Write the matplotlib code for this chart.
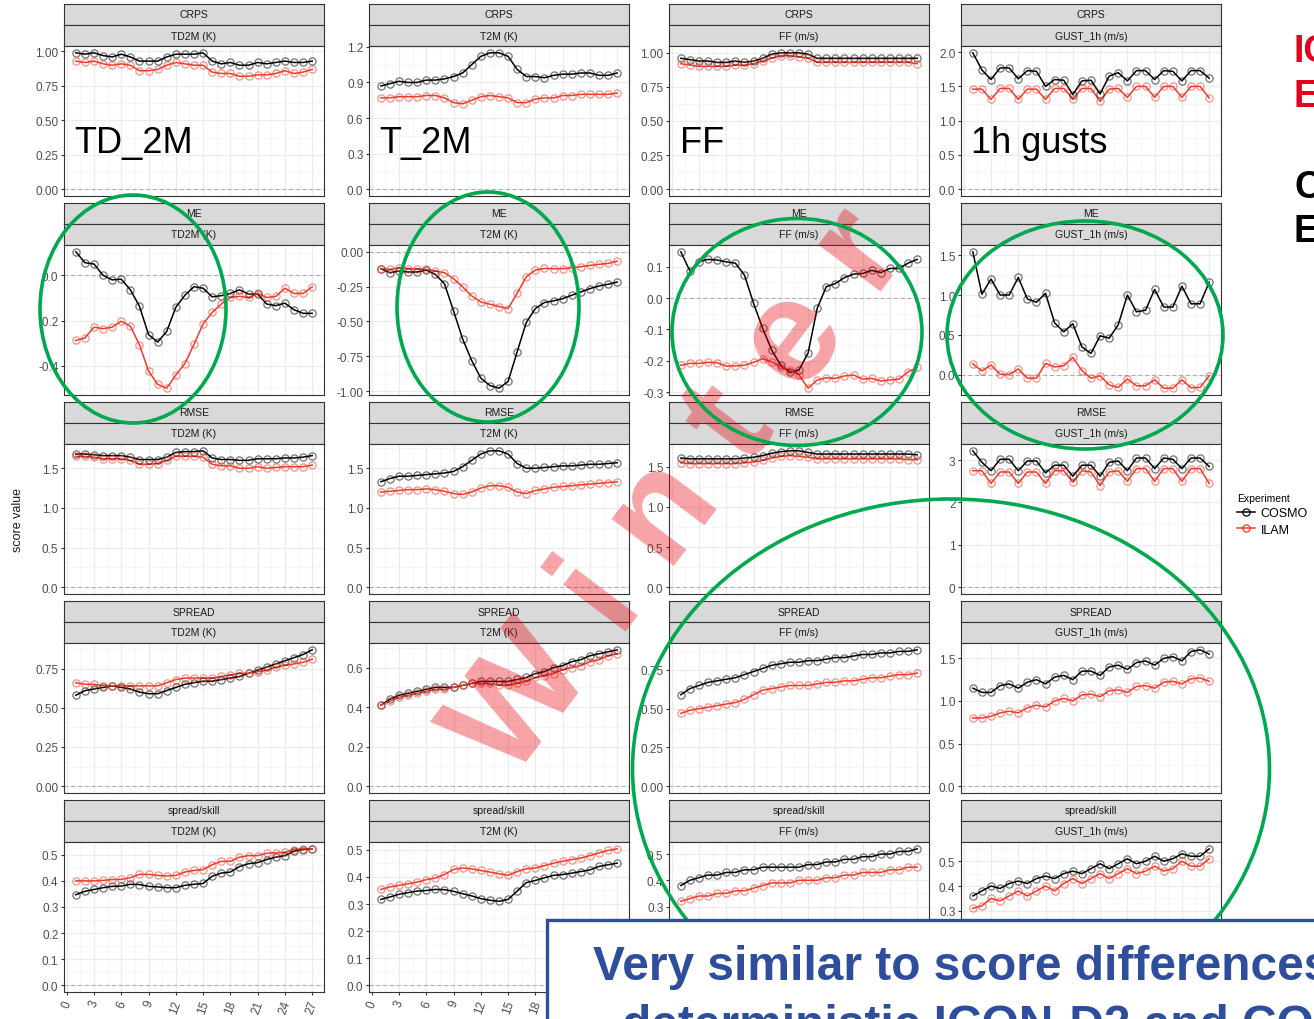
import matplotlib
matplotlib.use("Agg")
import matplotlib.pyplot as plt
from matplotlib.patches import Ellipse, Rectangle
from matplotlib.lines import Line2D
from matplotlib import font_manager
import numpy as np

plt.rcParams['font.family'] = ['Liberation Sans', 'DejaVu Sans']

lead = list(range(1, 28))
scores = ["CRPS", "ME", "RMSE", "SPREAD", "spread/skill"]
variables = ["TD2M (K)", "T2M (K)", "FF (m/s)", "GUST_1h (m/s)"]
experiments = ["COSMO", "ILAM"]

# CRPS
crps_td2m_cosmo = [0.99, 0.98, 0.99, 0.97, 0.96, 0.98, 0.96, 0.93, 0.93, 0.93, 0.96, 0.98, 0.98, 0.98, 0.99,
                   0.93, 0.91, 0.92, 0.90, 0.90, 0.92, 0.91, 0.92, 0.93, 0.92, 0.92, 0.93]
crps_td2m_ilam = [0.93, 0.92, 0.93, 0.91, 0.90, 0.91, 0.90, 0.86, 0.86, 0.87, 0.90, 0.92, 0.91, 0.90, 0.90,
                  0.85, 0.84, 0.84, 0.82, 0.82, 0.83, 0.83, 0.84, 0.86, 0.84, 0.85, 0.87]
crps_t2m_cosmo = [0.87, 0.89, 0.91, 0.90, 0.90, 0.92, 0.92, 0.93, 0.95, 0.98, 1.05, 1.12, 1.15, 1.15, 1.12,
                  1.01, 0.95, 0.95, 0.94, 0.96, 0.97, 0.97, 0.98, 0.98, 0.96, 0.96, 0.98]
crps_t2m_ilam = [0.77, 0.77, 0.78, 0.78, 0.78, 0.79, 0.79, 0.77, 0.73, 0.72, 0.75, 0.78, 0.79, 0.78, 0.77,
                 0.73, 0.73, 0.76, 0.77, 0.77, 0.79, 0.79, 0.80, 0.80, 0.80, 0.80, 0.81]
crps_ff_cosmo = [0.96, 0.95, 0.94, 0.94, 0.93, 0.93, 0.94, 0.93, 0.94, 0.96, 0.99, 1.00, 1.00, 1.00, 0.99,
                 0.96, 0.96, 0.96, 0.96, 0.96, 0.96, 0.96, 0.96, 0.96, 0.96, 0.96, 0.96]
crps_ff_ilam = [0.92, 0.91, 0.90, 0.90, 0.90, 0.90, 0.91, 0.91, 0.92, 0.94, 0.96, 0.98, 0.98, 0.97, 0.96,
                0.93, 0.93, 0.93, 0.93, 0.93, 0.93, 0.93, 0.93, 0.93, 0.93, 0.93, 0.92]
crps_gust_cosmo = [1.99, 1.74, 1.60, 1.77, 1.77, 1.61, 1.73, 1.72, 1.50, 1.60, 1.59, 1.38, 1.58, 1.59, 1.39,
                   1.65, 1.70, 1.58, 1.73, 1.73, 1.60, 1.73, 1.72, 1.58, 1.73, 1.73, 1.62]
crps_gust_ilam = [1.46, 1.46, 1.31, 1.47, 1.47, 1.31, 1.46, 1.46, 1.31, 1.47, 1.47, 1.32, 1.47, 1.47, 1.28,
                  1.46, 1.47, 1.34, 1.50, 1.50, 1.34, 1.50, 1.50, 1.34, 1.50, 1.50, 1.33]

# ME
me_td2m_cosmo = [0.104, 0.056, 0.050, 0.0, -0.020, -0.017, -0.064, -0.137, -0.262, -0.295, -0.248, -0.141,
                 -0.088, -0.050, -0.057, -0.095, -0.090, -0.080, -0.064, -0.083, -0.083, -0.127, -0.134,
                 -0.123, -0.152, -0.168, -0.168]
me_td2m_ilam = [-0.288, -0.277, -0.229, -0.236, -0.229, -0.203, -0.225, -0.307, -0.423, -0.482, -0.499, -0.441,
                -0.390, -0.305, -0.215, -0.164, -0.127, -0.098, -0.093, -0.098, -0.079, -0.098, -0.093,
                -0.057, -0.080, -0.080, -0.051]
me_t2m_cosmo = [-0.121, -0.150, -0.138, -0.145, -0.145, -0.131, -0.162, -0.229, -0.424, -0.626, -0.781, -0.907,
                -0.960, -0.979, -0.931, -0.717, -0.507, -0.407, -0.364, -0.352, -0.336, -0.312, -0.288,
                -0.264, -0.245, -0.233, -0.217]
me_t2m_ilam = [-0.121, -0.126, -0.114, -0.121, -0.121, -0.126, -0.138, -0.150, -0.193, -0.252, -0.317, -0.360,
               -0.376, -0.393, -0.407, -0.298, -0.179, -0.131, -0.119, -0.121, -0.121, -0.114, -0.107,
               -0.098, -0.090, -0.083, -0.067]
me_ff_cosmo = [0.147, 0.086, 0.116, 0.123, 0.121, 0.115, 0.111, 0.073, -0.017, -0.096, -0.166, -0.214, -0.237,
               -0.229, -0.175, -0.033, 0.036, 0.046, 0.065, 0.076, 0.078, 0.088, 0.081, 0.094, 0.094, 0.111, 0.123]
me_ff_ilam = [-0.214, -0.208, -0.208, -0.205, -0.206, -0.217, -0.216, -0.214, -0.205, -0.193, -0.203, -0.219,
              -0.229, -0.245, -0.287, -0.261, -0.254, -0.256, -0.248, -0.245, -0.258, -0.256, -0.264,
              -0.261, -0.258, -0.235, -0.221]
me_gust_cosmo = [1.54, 1.01, 1.20, 1.00, 1.00, 1.22, 0.95, 0.91, 1.02, 0.65, 0.54, 0.64, 0.35, 0.27, 0.49,
                 0.46, 0.63, 1.00, 0.79, 0.81, 1.07, 0.85, 0.85, 1.11, 0.89, 0.89, 1.16]
me_gust_ilam = [0.14, 0.05, 0.125, 0.01, 0.005, 0.075, -0.04, -0.04, 0.145, 0.10, 0.115, 0.22, 0.055, -0.04,
                -0.01, -0.125, -0.155, -0.05, -0.135, -0.135, -0.06, -0.165, -0.165, -0.06, -0.16, -0.155, -0.01]

# RMSE
rmse_td2m_cosmo = [1.68, 1.68, 1.67, 1.66, 1.66, 1.66, 1.64, 1.61, 1.61, 1.61, 1.64, 1.70, 1.71, 1.71, 1.72,
                   1.63, 1.61, 1.61, 1.60, 1.60, 1.62, 1.62, 1.62, 1.63, 1.63, 1.64, 1.66]
rmse_td2m_ilam = [1.65, 1.65, 1.64, 1.62, 1.62, 1.62, 1.60, 1.55, 1.55, 1.56, 1.60, 1.65, 1.65, 1.65, 1.64,
                  1.55, 1.53, 1.53, 1.50, 1.50, 1.52, 1.50, 1.51, 1.52, 1.52, 1.52, 1.54]
rmse_t2m_cosmo = [1.33, 1.37, 1.40, 1.40, 1.41, 1.42, 1.43, 1.44, 1.46, 1.52, 1.60, 1.68, 1.72, 1.72, 1.68,
                  1.56, 1.50, 1.50, 1.51, 1.52, 1.53, 1.53, 1.54, 1.55, 1.55, 1.56, 1.57]
rmse_t2m_ilam = [1.20, 1.21, 1.22, 1.23, 1.23, 1.24, 1.23, 1.21, 1.18, 1.17, 1.20, 1.25, 1.28, 1.28, 1.26,
                 1.20, 1.18, 1.22, 1.24, 1.26, 1.27, 1.28, 1.29, 1.30, 1.31, 1.32, 1.33]
rmse_ff_cosmo = [1.61, 1.60, 1.60, 1.60, 1.60, 1.60, 1.60, 1.61, 1.62, 1.64, 1.67, 1.69, 1.70, 1.70, 1.68,
                 1.66, 1.66, 1.66, 1.66, 1.66, 1.66, 1.66, 1.66, 1.66, 1.66, 1.66, 1.65]
rmse_ff_ilam = [1.55, 1.54, 1.54, 1.54, 1.54, 1.54, 1.54, 1.55, 1.56, 1.58, 1.61, 1.63, 1.64, 1.63, 1.62,
                1.60, 1.60, 1.60, 1.60, 1.60, 1.60, 1.60, 1.60, 1.60, 1.60, 1.59, 1.59]
rmse_gust_cosmo = [3.22, 2.95, 2.75, 3.02, 3.02, 2.75, 2.98, 2.98, 2.70, 2.88, 2.88, 2.62, 2.88, 2.88, 2.62,
                   2.95, 2.98, 2.75, 3.05, 3.05, 2.80, 3.05, 3.02, 2.80, 3.05, 3.05, 2.85]
rmse_gust_ilam = [2.75, 2.75, 2.45, 2.72, 2.72, 2.45, 2.72, 2.72, 2.45, 2.75, 2.75, 2.48, 2.75, 2.72, 2.40,
                  2.72, 2.75, 2.50, 2.80, 2.80, 2.50, 2.80, 2.80, 2.50, 2.80, 2.80, 2.45]

# SPREAD
spread_td2m_cosmo = [0.58, 0.61, 0.62, 0.63, 0.64, 0.63, 0.62, 0.60, 0.59, 0.59, 0.61, 0.63, 0.65, 0.66, 0.67,
                     0.67, 0.68, 0.69, 0.70, 0.72, 0.74, 0.76, 0.78, 0.80, 0.82, 0.84, 0.87]
spread_td2m_ilam = [0.66, 0.65, 0.65, 0.64, 0.64, 0.64, 0.64, 0.64, 0.64, 0.64, 0.66, 0.68, 0.69, 0.69, 0.69,
                    0.69, 0.70, 0.71, 0.72, 0.72, 0.73, 0.74, 0.76, 0.77, 0.78, 0.79, 0.81]
spread_t2m_cosmo = [0.41, 0.44, 0.46, 0.47, 0.48, 0.49, 0.50, 0.50, 0.50, 0.51, 0.52, 0.53, 0.53, 0.53, 0.53,
                    0.54, 0.55, 0.57, 0.58, 0.60, 0.61, 0.63, 0.64, 0.66, 0.67, 0.68, 0.69]
spread_t2m_ilam = [0.41, 0.43, 0.45, 0.46, 0.47, 0.48, 0.49, 0.49, 0.50, 0.51, 0.52, 0.52, 0.52, 0.51, 0.51,
                   0.52, 0.53, 0.55, 0.56, 0.57, 0.59, 0.60, 0.61, 0.63, 0.64, 0.66, 0.67]
spread_ff_cosmo = [0.59, 0.63, 0.65, 0.67, 0.68, 0.69, 0.70, 0.72, 0.74, 0.76, 0.78, 0.79, 0.80, 0.80, 0.81,
                   0.81, 0.82, 0.83, 0.83, 0.84, 0.85, 0.85, 0.86, 0.86, 0.87, 0.87, 0.88]
spread_ff_ilam = [0.47, 0.49, 0.50, 0.51, 0.52, 0.53, 0.54, 0.56, 0.59, 0.62, 0.63, 0.64, 0.65, 0.65, 0.65,
                  0.66, 0.67, 0.67, 0.68, 0.68, 0.69, 0.70, 0.70, 0.71, 0.72, 0.72, 0.73]
spread_gust_cosmo = [1.15, 1.10, 1.10, 1.18, 1.20, 1.15, 1.22, 1.25, 1.20, 1.28, 1.30, 1.25, 1.35, 1.35, 1.30,
                     1.40, 1.42, 1.37, 1.45, 1.47, 1.42, 1.50, 1.52, 1.47, 1.58, 1.60, 1.55]
spread_gust_ilam = [0.80, 0.80, 0.82, 0.86, 0.88, 0.86, 0.92, 0.95, 0.93, 1.00, 1.03, 1.00, 1.07, 1.08, 1.05,
                    1.12, 1.13, 1.10, 1.17, 1.18, 1.15, 1.22, 1.23, 1.20, 1.26, 1.27, 1.23]

# spread/skill
ss_td2m_cosmo = [0.347, 0.360, 0.367, 0.374, 0.379, 0.380, 0.387, 0.386, 0.379, 0.377, 0.374, 0.374, 0.383,
                 0.387, 0.390, 0.418, 0.430, 0.434, 0.455, 0.466, 0.470, 0.482, 0.491, 0.497, 0.514, 0.520, 0.523]
ss_td2m_ilam = [0.400, 0.400, 0.400, 0.402, 0.405, 0.406, 0.412, 0.425, 0.425, 0.421, 0.419, 0.421, 0.434,
                0.440, 0.443, 0.462, 0.475, 0.475, 0.491, 0.497, 0.497, 0.506, 0.508, 0.510, 0.520, 0.523, 0.523]
ss_t2m_cosmo = [0.317, 0.326, 0.336, 0.342, 0.348, 0.350, 0.354, 0.353, 0.347, 0.338, 0.330, 0.320, 0.314,
                0.310, 0.317, 0.348, 0.379, 0.387, 0.397, 0.406, 0.409, 0.414, 0.420, 0.426, 0.439, 0.445, 0.451]
ss_t2m_ilam = [0.354, 0.363, 0.369, 0.375, 0.381, 0.390, 0.396, 0.409, 0.428, 0.433, 0.430, 0.424, 0.418,
               0.412, 0.406, 0.420, 0.430, 0.433, 0.442, 0.451, 0.458, 0.464, 0.470, 0.479, 0.489, 0.498, 0.504]
ss_ff_cosmo = [0.38, 0.40, 0.41, 0.42, 0.42, 0.43, 0.43, 0.44, 0.44, 0.45, 0.45, 0.45, 0.45, 0.45, 0.46,
               0.46, 0.47, 0.47, 0.48, 0.48, 0.49, 0.49, 0.50, 0.50, 0.51, 0.51, 0.52]
ss_ff_ilam = [0.32, 0.33, 0.34, 0.34, 0.35, 0.35, 0.36, 0.36, 0.37, 0.38, 0.39, 0.39, 0.39, 0.40, 0.40,
              0.40, 0.41, 0.41, 0.42, 0.42, 0.43, 0.43, 0.43, 0.44, 0.44, 0.45, 0.45]
ss_gust_cosmo = [0.36, 0.38, 0.40, 0.39, 0.41, 0.42, 0.41, 0.43, 0.44, 0.43, 0.45, 0.46, 0.45, 0.47, 0.49,
                 0.47, 0.49, 0.51, 0.49, 0.50, 0.52, 0.50, 0.51, 0.53, 0.52, 0.52, 0.55]
ss_gust_ilam = [0.31, 0.32, 0.35, 0.34, 0.36, 0.38, 0.36, 0.38, 0.40, 0.38, 0.41, 0.43, 0.41, 0.43, 0.45,
                0.43, 0.45, 0.47, 0.45, 0.46, 0.48, 0.46, 0.47, 0.50, 0.48, 0.48, 0.51]

# y tick labels per panel (rows = scores, cols = variables)
yticks = [
    [["0.00", "0.25", "0.50", "0.75", "1.00"], ["0.0", "0.3", "0.6", "0.9", "1.2"],
     ["0.00", "0.25", "0.50", "0.75", "1.00"], ["0.0", "0.5", "1.0", "1.5", "2.0"]],
    [["-0.4", "-0.2", "0.0"], ["-1.00", "-0.75", "-0.50", "-0.25", "0.00"],
     ["-0.3", "-0.2", "-0.1", "0.0", "0.1"], ["0.0", "0.5", "1.0", "1.5"]],
    [["0.0", "0.5", "1.0", "1.5"], ["0.0", "0.5", "1.0", "1.5"],
     ["0.0", "0.5", "1.0", "1.5"], ["0", "1", "2", "3"]],
    [["0.00", "0.25", "0.50", "0.75"], ["0.0", "0.2", "0.4", "0.6"],
     ["0.00", "0.25", "0.50", "0.75"], ["0.0", "0.5", "1.0", "1.5"]],
    [["0.0", "0.1", "0.2", "0.3", "0.4", "0.5"], ["0.0", "0.1", "0.2", "0.3", "0.4", "0.5"],
     ["0.0", "0.1", "0.2", "0.3", "0.4", "0.5"], ["0.0", "0.1", "0.2", "0.3", "0.4", "0.5"]],
]
xticks = list(range(0, 28, 3))

series = [
    [(crps_td2m_cosmo, crps_td2m_ilam), (crps_t2m_cosmo, crps_t2m_ilam),
     (crps_ff_cosmo, crps_ff_ilam), (crps_gust_cosmo, crps_gust_ilam)],
    [(me_td2m_cosmo, me_td2m_ilam), (me_t2m_cosmo, me_t2m_ilam),
     (me_ff_cosmo, me_ff_ilam), (me_gust_cosmo, me_gust_ilam)],
    [(rmse_td2m_cosmo, rmse_td2m_ilam), (rmse_t2m_cosmo, rmse_t2m_ilam),
     (rmse_ff_cosmo, rmse_ff_ilam), (rmse_gust_cosmo, rmse_gust_ilam)],
    [(spread_td2m_cosmo, spread_td2m_ilam), (spread_t2m_cosmo, spread_t2m_ilam),
     (spread_ff_cosmo, spread_ff_ilam), (spread_gust_cosmo, spread_gust_ilam)],
    [(ss_td2m_cosmo, ss_td2m_ilam), (ss_t2m_cosmo, ss_t2m_ilam),
     (ss_ff_cosmo, ss_ff_ilam), (ss_gust_cosmo, ss_gust_ilam)],
]

colors = {"COSMO": "#000000", "ILAM": "#EE3B2B"}
marker_alpha = 0.55

W, H = 1314, 1020
fig = plt.figure(figsize=(W / 100, H / 100), dpi=100)


def box(x0, y0, x1, y1):
    return [x0 / W, 1 - y1 / H, (x1 - x0) / W, (y1 - y0) / H]


col_x = [(64, 324), (369, 629), (669, 929), (961, 1221)]
row_top = [5, 204, 403, 602, 801]
strip_h = 21
panel_h = 150


def strip(x0, y0, x1, y1, label):
    sa = fig.add_axes(box(x0, y0, x1, y1))
    sa.set_facecolor("#D9D9D9")
    sa.set_xticks([])
    sa.set_yticks([])
    for s in sa.spines.values():
        s.set_color("#333333")
        s.set_linewidth(0.8)
    sa.text(0.5, 0.5, label, ha="center", va="center", fontsize=7.5, color="#1A1A1A",
            transform=sa.transAxes)


for r, score in enumerate(scores):
    top = row_top[r]
    for c, var in enumerate(variables):
        x0, x1 = col_x[c]
        strip(x0, top, x1, top + strip_h, score)
        strip(x0, top + strip_h, x1, top + 2 * strip_h, var)
        ax = fig.add_axes(box(x0, top + 2 * strip_h, x1, top + 2 * strip_h + panel_h))

        cosmo, ilam = series[r][c]
        allv = np.array(cosmo + ilam + [0.0])
        lo, hi = allv.min(), allv.max()
        pad = 0.05 * (hi - lo)

        labels = yticks[r][c]
        vals = [float(v) for v in labels]
        ax.set_yticks(vals, labels)
        step = vals[1] - vals[0]
        minors = [v + step / 2 for v in [vals[0] - step] + vals]
        ax.set_yticks(minors, minor=True)
        ax.set_xticks(xticks)
        ax.set_xticks([t + 1.5 for t in [-3] + xticks], minor=True)
        ax.set_xlim(1 - 0.05 * 26, 27 + 0.05 * 26)
        ax.set_ylim(lo - pad, hi + pad)

        ax.grid(True, which="major", color="#EBEBEB", lw=0.9)
        ax.grid(True, which="minor", color="#F3F3F3", lw=0.5)
        ax.set_axisbelow(True)
        ax.axhline(0, color="#A8A8A8", lw=0.7, ls=(0, (4, 3)), zorder=1)

        for name, vals_ in zip(experiments, (cosmo, ilam)):
            col = colors[name]
            ax.plot(lead, vals_, color=col, lw=1.1, zorder=3)
            ax.plot(lead, vals_, ls="none", marker="o", ms=5.2, mfc="none", mew=0.9,
                    mec=matplotlib.colors.to_rgba(col, marker_alpha), zorder=4)

        for s in ax.spines.values():
            s.set_color("#333333")
            s.set_linewidth(0.8)
        ax.tick_params(which="minor", length=0)
        ax.tick_params(axis="y", which="major", length=2.5, color="#333333",
                       labelsize=8.5, labelcolor="#4D4D4D", pad=1.5)
        if r == len(scores) - 1:
            ax.tick_params(axis="x", which="major", length=2.5, color="#333333",
                           labelsize=8.5, labelcolor="#4D4D4D", pad=2)
            for t in ax.get_xticklabels():
                t.set_rotation(70)
                t.set_ha("center")
                t.set_va("top")
        else:
            ax.tick_params(axis="x", which="major", length=0, labelbottom=False)

fig.text(18 / W, 1 - 520 / H, "score value", rotation=90, ha="center", va="center",
         fontsize=9, color="#1A1A1A")

handles = [Line2D([], [], color=colors[n], lw=1.1, marker="o", ms=5.2, mfc="none", mew=0.9)
           for n in experiments]
fig.legend(handles, experiments, title="Experiment", loc="upper left",
           bbox_to_anchor=(1237 / W, 1 - 494 / H), frameon=False, fontsize=9,
           title_fontsize=7.5, handlelength=1.4, handletextpad=0.5, labelspacing=0.35,
           borderaxespad=0, borderpad=0, alignment="left")

# annotation layer in pixel coordinates
ov = fig.add_axes([0, 0, 1, 1], zorder=10)
ov.set_xlim(0, W)
ov.set_ylim(H, 0)
ov.axis("off")
ov.patch.set_alpha(0)

for label, x in [("TD_2M", 74), ("T_2M", 379), ("FF", 680), ("1h gusts", 971)]:
    ov.text(x, 153, label, fontsize=26, ha="left", va="baseline", color="black")

ov.text(680, 495, "W i n t e r", fontsize=106, fontweight="bold", rotation=53,
        ha="center", va="center", color="#E8000B", alpha=0.36, rotation_mode="anchor")

green = "#00A84F"
for cx, cy, w, h in [(133, 310, 186, 228), (488, 308, 182, 230), (797, 333, 250, 227),
                     (1085, 336, 276, 228), (951, 770, 637, 540)]:
    ov.add_patch(Ellipse((cx, cy), w, h, fill=False, ec=green, lw=2.6, zorder=3))

ov.add_patch(Rectangle((547, 921), 820, 150, fc="white", ec="#2E4D9C", lw=2.4, zorder=5))
names = {f.name for f in font_manager.fontManager.ttflist}
box_font = "Liberation Sans Narrow" if "Liberation Sans Narrow" in names else "Liberation Sans"
box_size = 37 if box_font == "Liberation Sans Narrow" else 34.5
ov.text(593, 980, "Very similar to score differences", fontsize=box_size, fontweight="bold",
        family=box_font, color="#2E4D9C", ha="left", va="baseline", zorder=6, clip_on=True)
ov.text(622, 1039, "deterministic ICON-D2 and COSMO-D2", fontsize=box_size, fontweight="bold",
        family=box_font, color="#2E4D9C", ha="left", va="baseline", zorder=6, clip_on=True)

red = "#E2001A"
ov.text(1294, 62, "ICON", fontsize=27, fontweight="bold", color=red, ha="left", va="baseline")
ov.text(1294, 107, "EPS", fontsize=27, fontweight="bold", color=red, ha="left", va="baseline")
ov.text(1294, 198, "COSMO", fontsize=27, fontweight="bold", color="black", ha="left", va="baseline")
ov.text(1294, 242, "EPS", fontsize=27, fontweight="bold", color="black", ha="left", va="baseline")

fig.savefig("out.png", dpi=100)
